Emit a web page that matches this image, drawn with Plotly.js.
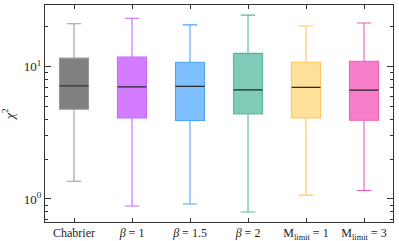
<!DOCTYPE html>
<html>
<head>
<meta charset="utf-8">
<script src="https://cdn.plot.ly/plotly-3.0.1.min.js"></script>
<style>html,body{margin:0;padding:0;background:#fff;}#chart{width:399px;height:241px;}</style>
</head>
<body>
<div id="chart"></div>
<script>
const categories = ["Chabrier", "<i>β</i> = 1", "<i>β</i> = 1.5", "<i>β</i> = 2", "M<sub>limit</sub> = 1", "M<sub>limit</sub> = 3"];
const lowerWhisker = [1.36, 0.885, 0.916, 0.798, 1.07, 1.16];
const q1Values     = [4.76, 4.09, 3.92, 4.39, 4.09, 3.94];
const medians      = [7.15, 7.03, 7.10, 6.67, 6.98, 6.64];
const q3Values     = [11.6, 11.8, 10.8, 12.6, 10.8, 11.0];
const upperWhisker = [21.1, 23.2, 20.7, 24.5, 20.3, 21.4];
const fillColors = ["#808080", "#d47cff", "#80bfff", "#80cab8", "#ffe09a", "#f77fca"];
const lineColors = ["#9a9a9a", "#cc66ff", "#4aa5ff", "#56b89f", "#ffc857", "#ef5db8"];

const traces = categories.map((c, i) => ({
  type: "box",
  x: [c],
  q1: [q1Values[i]],
  median: [medians[i]],
  q3: [q3Values[i]],
  lowerfence: [lowerWhisker[i]],
  upperfence: [upperWhisker[i]],
  width: 0.5,
  whiskerwidth: 0.5,
  fillcolor: fillColors[i],
  line: {color: lineColors[i], width: 1.1},
  hoverinfo: "skip",
  showlegend: false
}));
traces.push({
  type: "box",
  x: categories,
  q1: medians,
  median: medians,
  q3: medians,
  lowerfence: medians,
  upperfence: medians,
  width: 0.5,
  whiskerwidth: 1,
  fillcolor: "rgba(0,0,0,0)",
  line: {color: "#2b2b2b", width: 1.2},
  hoverinfo: "skip",
  showlegend: false
});

const serif = "'Times New Roman', 'Liberation Serif', serif";
const layout = {
  width: 399, height: 241,
  margin: {l: 45, r: 6, t: 5, b: 19, pad: 0},
  paper_bgcolor: "#fff", plot_bgcolor: "#fff",
  font: {family: serif, size: 11, color: "#222"},
  boxmode: "overlay",
  showlegend: false,
  xaxis: {
    type: "category",
    range: [-0.5, 5.5],
    showline: true, linecolor: "#333", linewidth: 1, mirror: "ticks",
    ticks: "inside", ticklen: 4, tickcolor: "#333",
    showgrid: false, zeroline: false,
    tickfont: {family: serif, size: 12, color: "#222"}
  },
  yaxis: {
    type: "log",
    range: [-0.174, 1.466],
    showline: true, linecolor: "#333", linewidth: 1, mirror: "ticks",
    ticks: "inside", ticklen: 6, tickcolor: "#333",
    tickmode: "array", tickvals: [1, 10], ticktext: ["10<sup>0</sup>", "10<sup>1</sup>"],
    minor: {tickmode: "array", tickvals: [0.7, 0.8, 0.9, 2, 3, 4, 5, 6, 7, 8, 9, 20, 30], ticks: "inside", ticklen: 3, tickcolor: "#333", showgrid: false},
    showgrid: false, zeroline: false,
    tickfont: {family: serif, size: 13, color: "#222"},
    title: {text: "<i>χ</i><sup>2</sup>", font: {family: serif, size: 13, color: "#222"}, standoff: 6}
  }
};
Plotly.newPlot("chart", traces, layout, {displayModeBar: false, staticPlot: true});
</script>
</body>
</html>
